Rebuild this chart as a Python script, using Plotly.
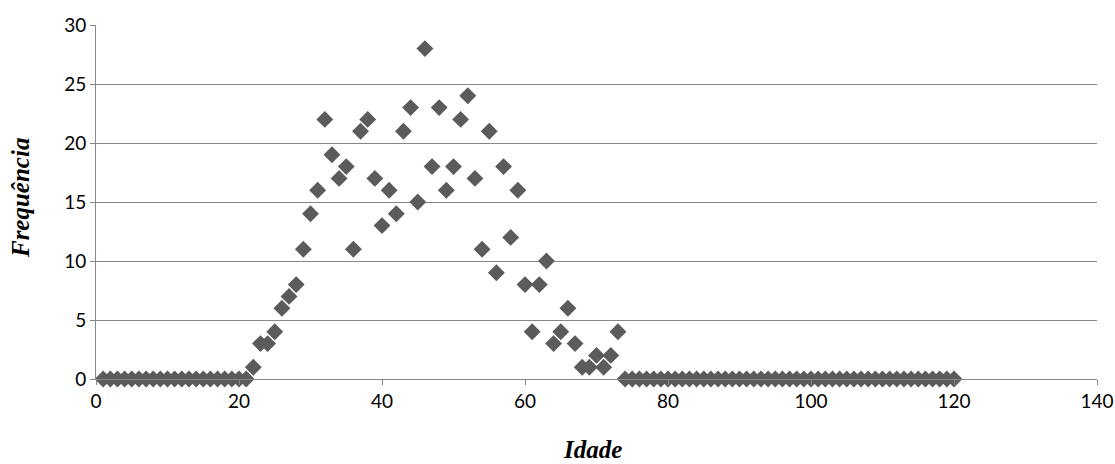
import plotly.graph_objects as go

idade = list(range(1, 121))
freq_21_73 = [0, 1, 3, 3, 4, 6, 7, 8, 11, 14, 16, 22, 19, 17, 18, 11, 21, 22, 17, 13,
              16, 14, 21, 23, 15, 28, 18, 23, 16, 18, 22, 24, 17, 11, 21, 9, 18, 12, 16, 8,
              4, 8, 10, 3, 4, 6, 3, 1, 1, 2, 1, 2, 4]
frequencia = [0] * 20 + freq_21_73 + [0] * (120 - 73)

x_ticks = [0, 20, 40, 60, 80, 100, 120, 140]
y_ticks = [0, 5, 10, 15, 20, 25, 30]

fig = go.Figure()
fig.add_trace(go.Scatter(
    x=idade, y=frequencia, mode="markers",
    marker=dict(symbol="diamond", size=13, color="#5b5b5b", line=dict(width=0)),
    cliponaxis=False, showlegend=False,
))

axis_color = "#878787"
title_font = dict(family="Liberation Serif, serif", size=25, color="#000000")
fig.update_layout(
    width=1115, height=464,
    margin=dict(l=96, r=18, t=25, b=85),
    paper_bgcolor="white", plot_bgcolor="white",
    font=dict(family="Lato, Open Sans, sans-serif", size=19, color="#000000"),
    xaxis=dict(
        range=[0, 140], tickvals=x_ticks, showgrid=False, zeroline=False,
        showline=True, linecolor=axis_color, linewidth=1, automargin=False,
        ticks="outside", ticklen=5, tickcolor=axis_color,
    ),
    yaxis=dict(
        range=[0, 30], tickvals=y_ticks, showgrid=True, gridcolor=axis_color, gridwidth=1,
        zeroline=False, showline=True, linecolor=axis_color, linewidth=1, automargin=False,
        ticks="outside", ticklen=5, tickcolor=axis_color,
    ),
    annotations=[
        dict(text="<b><i>Idade</i></b>", xref="paper", yref="paper", x=0.496, y=-0.198,
             xanchor="center", yanchor="middle", showarrow=False, font=title_font),
        dict(text="<b><i>Frequência</i></b>", xref="paper", yref="paper", x=-0.076, y=0.511,
             xanchor="center", yanchor="middle", textangle=-90, showarrow=False, font=title_font),
    ],
)

fig.write_html("out.html", config={"displayModeBar": False},
               post_script="document.body.style.margin='0';")
